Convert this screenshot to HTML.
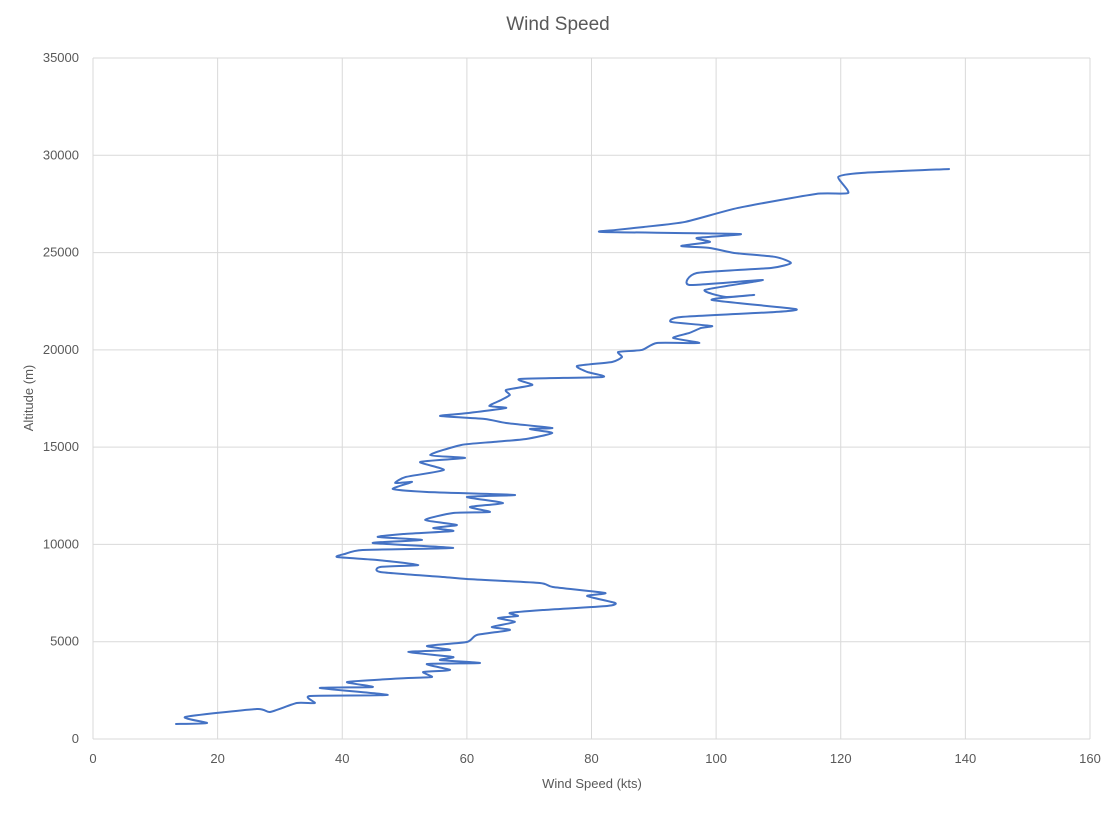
<!DOCTYPE html>
<html><head><meta charset="utf-8"><style>
body{margin:0;background:#fff;font-family:"Liberation Sans",sans-serif;}
svg text{font-family:"Liberation Sans",sans-serif;fill:#595959;}
</style></head><body>
<svg id="chart" width="1117" height="813" xmlns="http://www.w3.org/2000/svg">
<rect width="1117" height="813" fill="#fff"/>
<text x="558" y="30" font-size="19" text-anchor="middle">Wind Speed</text>
<g id="grid"></g><g id="ticks"></g><g id="series"></g>
<text x="592" y="788" font-size="13" text-anchor="middle">Wind Speed (kts)</text>
<text transform="translate(33,398) rotate(-90)" font-size="13" text-anchor="middle">Altitude (m)</text>
</svg>
<script>
const xTicks=[0,20,40,60,80,100,120,140,160];
const yTicks=[0,5000,10000,15000,20000,25000,30000,35000];
const speed=[13.2,18.3,14.8,26.3,28.4,32.7,35.6,34.8,47.3,36.4,44.9,40.8,50.6,54.4,53.0,57.3,53.6,62.1,55.7,57.8,50.6,57.3,53.6,60.0,61.6,66.9,64.0,67.7,65.0,68.2,66.9,72.2,82.5,83.8,79.3,82.2,73.8,71.7,60.0,56.2,46.1,46.1,52.2,45.6,39.2,40.4,43.3,57.8,44.9,52.8,45.7,49.8,57.8,54.6,58.4,53.3,57.8,63.7,60.5,65.8,60.0,67.7,53.6,48.1,51.2,48.5,50.2,56.3,52.5,59.7,54.1,59.1,64.2,69.5,73.7,70.1,73.7,66.3,62.9,55.7,60.3,66.3,63.6,65.5,66.9,66.3,70.5,68.5,81.8,79.3,77.7,83.3,84.9,84.3,88.1,90.5,97.3,93.1,95.7,97.6,99.3,92.8,94.4,109.5,112.7,99.3,106.1,101.6,98.2,107.5,95.7,96.9,108.8,112.0,109.5,102.9,99.0,94.4,99.0,96.9,103.8,81.8,83.9,88.4,95.0,103.5,116.0,121.2,119.6,123.3,137.5];
const altitude=[771,822,1131,1542,1388,1850,1850,2210,2262,2621,2673,2930,3135,3187,3444,3547,3855,3906,4061,4215,4472,4575,4780,4986,5346,5603,5757,6014,6219,6322,6476,6631,6836,6990,7350,7504,7813,8018,8224,8327,8584,8841,8944,9201,9355,9509,9715,9817,10074,10229,10383,10537,10691,10845,11000,11257,11616,11668,11925,12130,12439,12542,12696,12850,13210,13158,13467,13827,14238,14443,14598,15112,15266,15420,15728,15934,15985,16242,16448,16602,16756,17013,17116,17425,17682,17939,18196,18504,18607,18864,19172,19378,19635,19892,19995,20354,20354,20611,20868,21125,21228,21434,21690,21947,22102,22565,22822,22719,23079,23593,23336,23952,24209,24466,24775,24980,25237,25340,25546,25751,25957,26060,26163,26317,26574,27293,28013,28064,28887,29092,29298];
const X0=93,X1=1090,Y0=739,Y1=58;
const sx=v=>X0+(v-0)/160*(X1-X0);
const sy=v=>Y0-(v-0)/35000*(Y0-Y1);
const NS="http://www.w3.org/2000/svg";
const grid=document.getElementById('grid'),ticks=document.getElementById('ticks'),series=document.getElementById('series');
function mk(t,a){const e=document.createElementNS(NS,t);for(const k in a)e.setAttribute(k,a[k]);return e;}
xTicks.forEach(v=>{
 const l=mk('line',{x1:sx(v),x2:sx(v),y1:Y1,y2:Y0,stroke:'#d9d9d9','stroke-width':1});
 
 
 grid.appendChild(l);
 const t=mk('text',{x:sx(v),y:Y0+24,'font-size':13,'text-anchor':'middle'});
 t.textContent=v;
 
 
 ticks.appendChild(t);
});
yTicks.forEach(v=>{
 const l=mk('line',{x1:X0,x2:X1,y1:sy(v),y2:sy(v),stroke:'#d9d9d9','stroke-width':1});
 
 
 grid.appendChild(l);
 const t=mk('text',{x:X0-14,y:sy(v)+4,'font-size':13,'text-anchor':'end'});
 t.textContent=v;
 
 
 ticks.appendChild(t);
});
const pts=speed.map((s,i)=>[sx(s),sy(altitude[i])]);
let d='M'+pts[0][0]+','+pts[0][1];
for(let i=0;i<pts.length-1;i++){
 const p0=pts[Math.max(0,i-1)],p1=pts[i],p2=pts[i+1],p3=pts[Math.min(pts.length-1,i+2)];
 const k=1/10;
 d+=' C'+(p1[0]+(p2[0]-p0[0])*k)+','+(p1[1]+(p2[1]-p0[1])*k)+' '+(p2[0]-(p3[0]-p1[0])*k)+','+(p2[1]-(p3[1]-p1[1])*k)+' '+p2[0]+','+p2[1];
}
const path=mk('path',{d:d,fill:'none',stroke:'#4472c4','stroke-width':2,'stroke-linejoin':'round'});


series.appendChild(path);
</script>
</body></html>
